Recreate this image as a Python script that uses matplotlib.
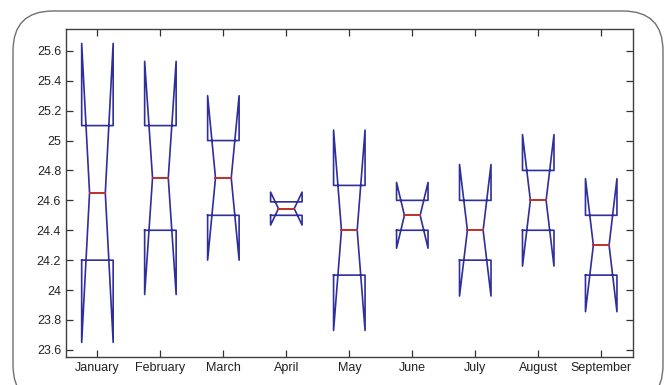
import matplotlib
matplotlib.use("Agg")
import matplotlib.pyplot as plt
from matplotlib import font_manager
from matplotlib.patches import FancyBboxPatch

months = ["January", "February", "March", "April", "May", "June",
          "July", "August", "September"]
medians = [24.65, 24.75, 24.75, 24.545, 24.40, 24.50, 24.40, 24.60, 24.30]
q1 = [24.20, 24.40, 24.50, 24.50, 24.10, 24.40, 24.20, 24.40, 24.10]
q3 = [25.10, 25.10, 25.00, 24.59, 24.70, 24.60, 24.60, 24.80, 24.50]
notch_lo = [23.65, 23.97, 24.20, 24.435, 23.73, 24.28, 23.96, 24.16, 23.855]
notch_hi = [25.65, 25.53, 25.30, 24.655, 25.07, 24.72, 24.84, 25.04, 24.745]
yticks = [23.6, 23.8, 24, 24.2, 24.4, 24.6, 24.8, 25, 25.2, 25.4, 25.6]
ytick_labels = ["23.6", "23.8", "24", "24.2", "24.4", "24.6", "24.8",
                "25", "25.2", "25.4", "25.6"]

names = {f.name for f in font_manager.fontManager.ttflist}
if "Liberation Sans Narrow" in names:
    plt.rcParams["font.family"] = ["Liberation Sans Narrow", "DejaVu Sans"]
    fsize = 10
else:
    plt.rcParams["font.family"] = ["Liberation Sans", "DejaVu Sans"]
    fsize = 9

fig = plt.figure(figsize=(6.66, 3.85), dpi=100)
ax = fig.add_axes([0.099, 0.073, 0.851, 0.852])

half_w = 0.25
notch_w = 0.125
blue = "#2e2e9c"
red = "#c0302c"

for i in range(len(months)):
    c = i + 1
    l, r = c - half_w, c + half_w
    nl, nr = c - notch_w, c + notch_w
    xs = [l, l, nl, l, l, r, r, nr, r, r, l]
    ys = [q1[i], notch_lo[i], medians[i], notch_hi[i], q3[i], q3[i],
          notch_hi[i], medians[i], notch_lo[i], q1[i], q1[i]]
    ax.plot(xs, ys, color=blue, lw=1.2)
    ax.plot([nl, nr], [medians[i], medians[i]], color=red, lw=1.4)

ax.set_xlim(0.5, 9.5)
ax.set_ylim(23.553, 25.747)
ax.set_xticks(range(1, len(months) + 1))
ax.set_xticklabels(months)
ax.set_yticks(yticks)
ax.set_yticklabels(ytick_labels)
ax.tick_params(direction="in", length=5, width=0.9, labelsize=fsize,
               top=True, right=True, colors="#333333", labelcolor="#222222")
for s in ax.spines.values():
    s.set_color("#404040")
    s.set_linewidth(1.0)

# rounded border around the figure
border = FancyBboxPatch((13 / 666, -20 / 385), 650 / 666, (385 - 11 + 20) / 385,
                        boxstyle="round,pad=0,rounding_size=0.06",
                        transform=fig.transFigure, fill=False,
                        edgecolor="#707070", lw=1.0, mutation_aspect=666 / 385)
fig.patches.append(border)

fig.savefig("out.png", dpi=100)
